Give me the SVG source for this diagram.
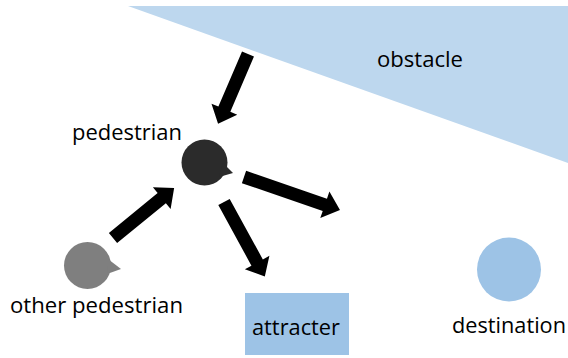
<svg xmlns="http://www.w3.org/2000/svg" width="568" height="358" viewBox="0 0 568 358">
<style>
text{font-family:"Open Sans","Liberation Sans",sans-serif;font-size:22px;fill:#000}
.arr{fill:#000}
</style>
<rect width="568" height="358" fill="#fff"/>
<g id="obstacle">
<polygon points="128,6 568,6 568,163" fill="#bdd7ee"/>
<text x="377" y="67" textLength="86" lengthAdjust="spacingAndGlyphs">obstacle</text>
</g>
<g id="destination">
<circle cx="509" cy="269.5" r="32" fill="#9dc3e6"/>
<text x="452" y="333" textLength="114" lengthAdjust="spacingAndGlyphs">destination</text>
</g>
<g id="attracter">
<rect x="245" y="293" width="104" height="62" fill="#9dc3e6"/>
<text x="252" y="335" textLength="88" lengthAdjust="spacingAndGlyphs">attracter</text>
</g>
<g id="pedestrian">
<circle cx="204.5" cy="162.5" r="23" fill="#2b2b2b"/>
<polygon points="223,163 233,173 219,177" fill="#2b2b2b"/>
<text x="72" y="140" textLength="110" lengthAdjust="spacingAndGlyphs">pedestrian</text>
</g>
<g id="other-pedestrian">
<circle cx="87.5" cy="265.5" r="23.5" fill="#7f7f7f"/>
<polygon points="108,259 121,269 107,274" fill="#7f7f7f"/>
<text x="10" y="313" textLength="173" lengthAdjust="spacingAndGlyphs">other pedestrian</text>
</g>
<g id="connectors">
<polygon class="arr" transform="translate(248,54) rotate(113.2)" points="0,-6.5 60,-6.5 60,-14 76,0 60,14 60,6.5 0,6.5"/>
<polygon class="arr" transform="translate(113,238) rotate(-39.3)" points="0,-6.5 63,-6.5 63,-14 79,0 63,14 63,6.5 0,6.5"/>
<polygon class="arr" transform="translate(244,177) rotate(19)" points="0,-6.5 85.5,-6.5 85.5,-14 101.5,0 85.5,14 85.5,6.5 0,6.5"/>
<polygon class="arr" transform="translate(224,202) rotate(61.3)" points="0,-6.5 69,-6.5 69,-14 85,0 69,14 69,6.5 0,6.5"/>
</g>
</svg>
